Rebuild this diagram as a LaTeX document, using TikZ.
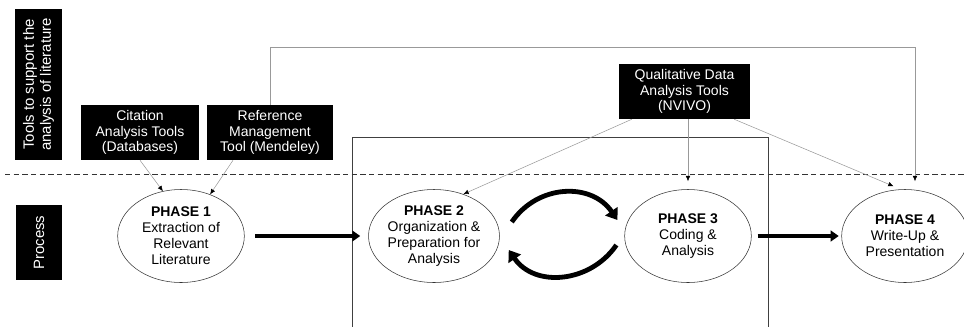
\documentclass[tikz,border=0pt]{standalone}
\usepackage{fontspec}
\setmainfont{Liberation Sans}
\usetikzlibrary{shapes.geometric,arrows.meta}
\begin{document}
\begin{tikzpicture}[x=0.75pt,y=-0.75pt,
	sidebox/.style={fill=black,text=white,align=center,inner sep=0pt,font=\fontsize{11.2}{12.6}\selectfont},
	toolbox/.style={fill=black,text=white,align=center,inner sep=0pt,minimum height=41.25pt,font=\fontsize{10.5}{11.9}\selectfont},
	phase/.style={ellipse,draw=black!80,align=center,inner sep=0pt,minimum width=95pt,minimum height=69.75pt,font=\fontsize{10.5}{12}\selectfont},
	link/.style={draw=black!40,-{Latex[black,length=4pt,width=3.5pt]}},
	flow/.style={line width=3.6pt,-{Triangle[length=6pt,width=8pt]}},
	cycle/.style={line width=3.6pt,-{Triangle[length=8pt,width=11pt]}}]

	\useasboundingbox (0,0) rectangle (964,326);

	% side labels
	\node[sidebox,rotate=90,minimum width=113.25pt,minimum height=35.25pt] (toolslbl) at (38.5,84.5) {Tools to support the\\analysis of literature};
	\node[sidebox,rotate=90,minimum width=56.25pt,minimum height=34.5pt] (proclbl) at (39,242.5) {Process};

	% tools
	\node[toolbox,minimum width=88.5pt] (cit) at (140,132.5) {Citation\\Analysis Tools\\(Databases)};
	\node[toolbox,minimum width=94.5pt] (ref) at (270,132.5) {Reference\\Management\\Tool (Mendeley)};
	\node[toolbox,minimum width=98.25pt] (qda) at (684.5,91.5) {Qualitative Data\\Analysis Tools\\(NVIVO)};

	% phases
	\node[phase] (p1) at (181,236) {\textbf{PHASE 1}\\Extraction of\\Relevant\\Literature};
	\node[phase] (p2) at (434,236) {\textbf{PHASE 2}\\Organization \&\\Preparation for\\Analysis};
	\node[phase] (p3) at (688,236) {\textbf{PHASE 3}\\Coding \&\\Analysis};
	\node[phase] (p4) at (905,236) {\textbf{PHASE 4}\\Write-Up \&\\Presentation};

	% frame and divider
	\draw[black!75] (352,330) -- (352,137) -- (768,137) -- (768,330);
	\draw[black!80,dash pattern=on 4pt off 2.5pt] (5,174) -- (964,174);

	% tool links
	\draw[link] (cit.south) -- (p1.112);
	\draw[link] ([xshift=-27.75pt]ref.south) -- (p1.55);
	\draw[link] ([xshift=9.75pt]qda.south west) -- (p2.55);
	\draw[link,shorten >=6pt] (qda.south -| p3.north) -- (p3.north);
	\draw[link,shorten >=6pt] ([xshift=-12pt]qda.south east) -- (p4.95);
	\draw[link,shorten >=6pt] (ref.north) -- ++(0,-57) -| ([xshift=7.5pt]p4.north);

	% process flow
	\draw[flow,shorten <=8pt,shorten >=6pt] (p1.east) -- (p2.west);
	\draw[flow,shorten <=4.5pt,shorten >=2pt] (p3.east) -- (p4.west);
	\draw[cycle] ([shift={(12,-14)}]p2.east) .. controls +(26,-38) and +(-26,-38) .. ([shift={(-7,-16)}]p3.west);
	\draw[cycle] ([shift={(-8,9)}]p3.west) .. controls +(-26,38) and +(26,38) .. ([shift={(9,14)}]p2.east);
\end{tikzpicture}
\end{document}
